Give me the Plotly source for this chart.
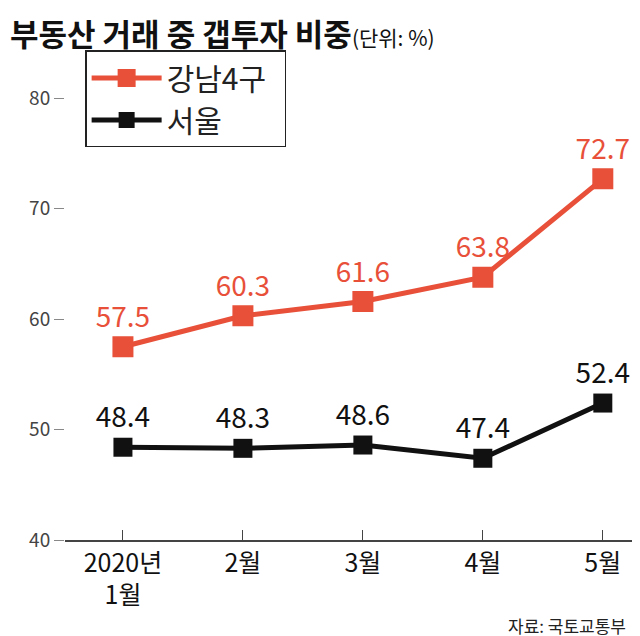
import plotly.graph_objects as go

months = ["2020년<br>1월", "2월", "3월", "4월", "5월"]
gangnam = [57.5, 60.3, 61.6, 63.8, 72.7]
seoul = [48.4, 48.3, 48.6, 47.4, 52.4]
x = [0, 1, 2, 3, 4]

red = "#E8503A"
black = "#111111"
font = "Noto Sans CJK KR"

fig = go.Figure()
fig.add_trace(go.Scatter(
    x=x, y=gangnam, name="강남4구  ", mode="lines+markers+text",
    line=dict(color=red, width=5),
    marker=dict(symbol="square", size=19, color=red, line=dict(color=red, width=2)),
    text=[f"{v}" for v in gangnam], textposition="top center",
    textfont=dict(color=red, size=28, family=font),
))
fig.add_trace(go.Scatter(
    x=x, y=seoul, name="서울", mode="lines+markers+text",
    line=dict(color=black, width=5),
    marker=dict(symbol="square", size=19, color=black),
    text=[f"{v}" for v in seoul], textposition="top center",
    textfont=dict(color=black, size=28, family=font),
))

fig.update_layout(
    width=640, height=636,
    margin=dict(l=57, r=8, t=35, b=104),
    plot_bgcolor="white", paper_bgcolor="white",
    font=dict(family=font, color="#222"),
    legend=dict(x=0.035, y=0.985, xanchor="left", yanchor="top",
                bordercolor="#222", borderwidth=1.5,
                font=dict(size=30, family=font),
                itemwidth=70, tracegroupgap=12),
    xaxis=dict(range=[-0.483, 4.31], tickvals=x, ticktext=months,
               showgrid=False, showline=True, linecolor="#444", linewidth=1.5,
               ticks="inside", ticklen=10, tickcolor="#444",
               tickfont=dict(size=25, family=font, color="#111")),
    yaxis=dict(range=[40, 85], tickvals=[40, 50, 60, 70, 80],
               showgrid=False, showline=False, zeroline=False,
               ticks="outside", ticklen=10, tickcolor="#888",
               tickfont=dict(size=19, family=font, color="#444")),
    annotations=[
        dict(text="<b>부동산 거래 중 갭투자 비중</b><span style='font-size:21px'>(단위: %)</span>",
             x=0, y=1, xref="paper", yref="paper", xanchor="left", yanchor="top",
             xshift=-57, yshift=35, showarrow=False,
             font=dict(size=31, family=font, color="#111")),
        dict(text="자료: 국토교통부", x=1, y=0, xref="paper", yref="paper",
             xanchor="right", yanchor="bottom", xshift=-12, yshift=-100,
             showarrow=False, font=dict(size=17, family=font, color="#222")),
    ],
)

fig.write_html("out.html")
